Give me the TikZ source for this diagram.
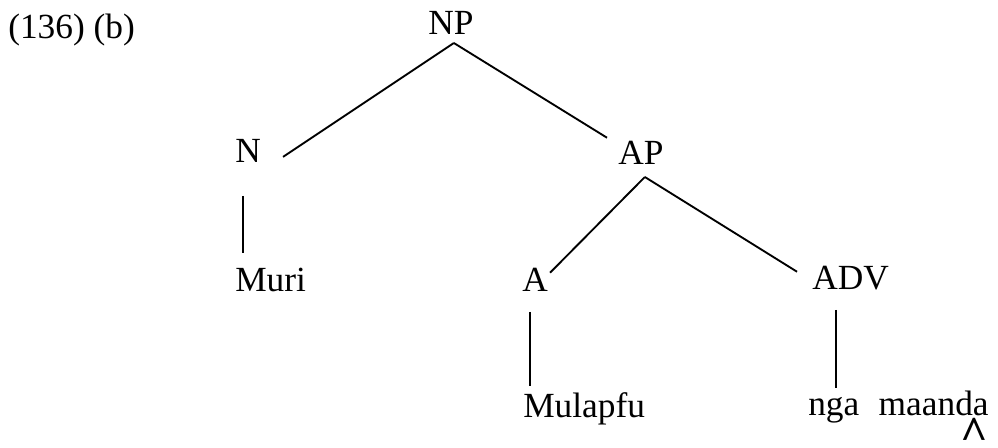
\documentclass[tikz,border=0pt]{standalone}
\usepackage{fontspec}
\setmainfont{Liberation Serif}
\usepackage{graphicx}
\usepackage{tikz}
\usetikzlibrary{calc}

% d with circumflex below
\newcommand{\dcirc}{d\llap{\raisebox{-0.98em}{\scalebox{1.35}{\bfseries\^{}}}\kern-0.42em}}

\tikzset{
  cat/.style={anchor=base west, inner sep=0pt, text height=18pt, text depth=5.8pt,
    font=\fontsize{26.5}{30}\selectfont},
  branch/.style={line width=1.4pt}
}

\begin{document}
\begin{tikzpicture}[x=0.75pt, y=-0.75pt]
\useasboundingbox (0,0) rectangle (998,448);

\node[cat] (ex) at (8,39) {(136) (b)};

\node[cat] (NP) at (428,35) {NP};
\node[cat] (N) at (235,163) {N};
\node[cat] (AP) at (618,165) {AP};
\node[cat] (muri) at (235,292) {Muri};
\node[cat] (A) at (522,292) {A};
\node[cat] (ADV) at (812,290) {ADV};
\node[cat] (mulapfu) at (523,417) {Mulapfu};
\node[cat] (nga) at (808,415) {nga\hspace{0.55em}maan\dcirc a};

\draw[branch] ($(NP.south)+(3,0)$) -- ($(N.east)+(22,2)$);
\draw[branch] ($(NP.south)+(3,0)$) -- ($(AP.north west)+(-11,-3)$);
\draw[branch] ($(N.south west)+(8,25)$) -- ($(muri.north west)+(8,-15)$);
\draw[branch] ($(AP.south)+(4,4)$) -- ($(A.north east)+(2,5)$);
\draw[branch] ($(AP.south)+(4,4)$) -- ($(ADV.north west)+(-15,6)$);
\draw[branch] ($(A.south west)+(8,12)$) -- ($(mulapfu.north west)+(7,-7)$);
\draw[branch] ($(ADV.south west)+(24,12)$) -- ($(nga.north west)+(28,-3)$);

\end{tikzpicture}
\end{document}
